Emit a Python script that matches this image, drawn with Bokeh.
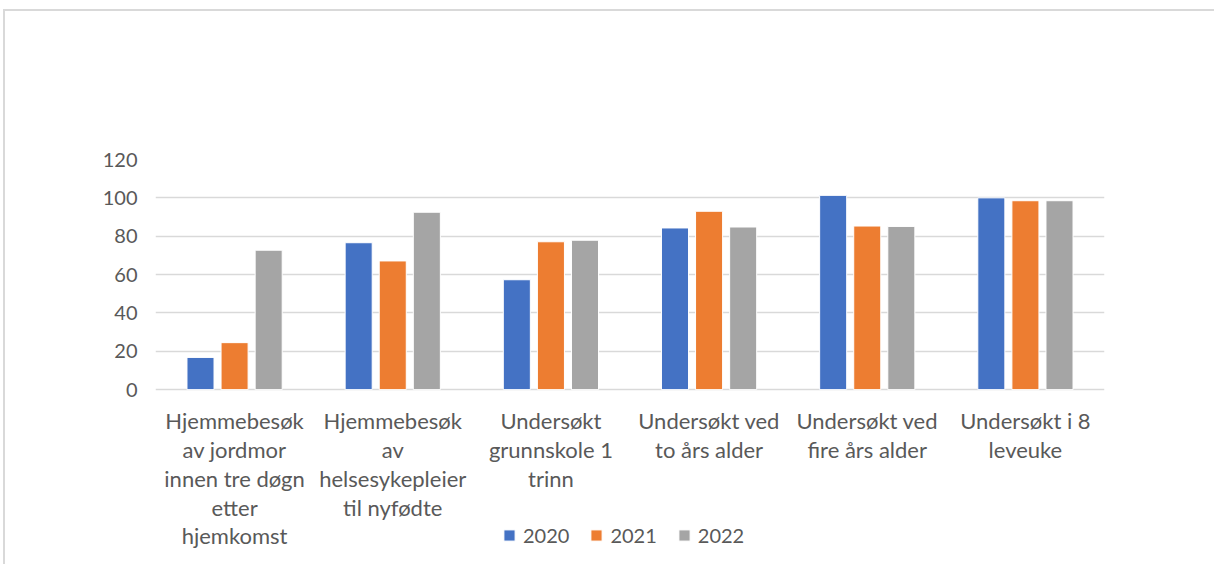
from bokeh.plotting import figure
from bokeh.models import FactorRange, Legend, LegendItem, ColumnDataSource, FixedTicker
from bokeh.transform import dodge
from bokeh.core.properties import value
from bokeh.embed import file_html
from bokeh.resources import INLINE

categories = ["c1", "c2", "c3", "c4", "c5", "c6"]
labels = [
    "Hjemmebesøk\nav jordmor\ninnen tre døgn\netter\nhjemkomst",
    "Hjemmebesøk\nav\nhelsesykepleier\ntil nyfødte",
    "Undersøkt\ngrunnskole 1\ntrinn",
    "Undersøkt ved\nto års alder",
    "Undersøkt ved\nfire års alder",
    "Undersøkt i 8\nleveuke",
]
years = ["2020", "2021", "2022"]
v2020 = [16.8, 76.6, 57.3, 84.3, 101.3, 100.0]
v2021 = [24.5, 67.1, 77.1, 93.0, 85.3, 98.5]
v2022 = [72.7, 92.5, 77.9, 84.8, 85.1, 98.5]
y_ticks = [0, 20, 40, 60, 80, 100, 120]

colors = ["#4472C4", "#ED7D31", "#A5A5A5"]
FONT = "Lato"
TXT = "#595959"

src = ColumnDataSource(dict(cat=categories, label=labels, v2020=v2020, v2021=v2021, v2022=v2022))

W, H = 1211, 555
# frame: x 155..1102, y 159 (=120) .. 388 (=0) .. figure bottom
Y_BOTTOM = -((9 + H) - 388) * 120 / (388 - 159)

p = figure(
    x_range=FactorRange(*categories, range_padding=0.0),
    y_range=(Y_BOTTOM, 120),
    width=W, height=H,
    output_backend="svg", toolbar_location=None,
    min_border_left=150, min_border_right=(3 + W) - 1102,
    min_border_top=148, min_border_bottom=0,
    styles={"border-top": "2px solid #D9D9D9", "border-left": "2px solid #D9D9D9",
            "margin-left": "3px", "margin-top": "9px"},
)
p.outline_line_color = None
p.xaxis.visible = False

offs = [-0.2155, 0.0, 0.2155]
rs = []
for col, off, c in zip(["v2020", "v2021", "v2022"], offs, colors):
    r = p.vbar(x=dodge("cat", off, range=p.x_range), top=col, width=0.171,
               source=src, fill_color=c, line_color="white", line_width=1)
    rs.append(r)

# category labels under the baseline
p.text(x="cat", y=-9, text="label", source=src,
       text_font=value(FONT), text_font_size="22px", text_color=TXT,
       text_align="center", text_baseline="top", text_line_height=1.07)

# axes
p.xgrid.grid_line_color = None
p.ygrid.ticker = FixedTicker(ticks=y_ticks)
p.ygrid.grid_line_color = "#D9D9D9"
p.ygrid.grid_line_width = 1.5
p.yaxis.ticker = FixedTicker(ticks=y_ticks)
p.yaxis.axis_line_color = None
p.yaxis.major_tick_line_color = None
p.yaxis.minor_tick_line_color = None
p.yaxis.major_tick_out = 0
p.yaxis.major_tick_in = 0
p.yaxis.major_label_text_font = FONT
p.yaxis.major_label_text_font_size = "20px"
p.yaxis.major_label_text_color = TXT
p.yaxis.major_label_standoff = 18

legend = Legend(
    items=[LegendItem(label=y, renderers=[r]) for y, r in zip(years, rs)],
    orientation="horizontal",
    location=(347, 19),
    label_text_font=FONT, label_text_font_size="20px", label_text_color=TXT,
    glyph_width=14, glyph_height=14, label_standoff=7, spacing=20,
    padding=0, margin=0, border_line_color=None, background_fill_alpha=0,
)
p.add_layout(legend, "center")

open("out.html", "w").write(file_html(p, INLINE))
